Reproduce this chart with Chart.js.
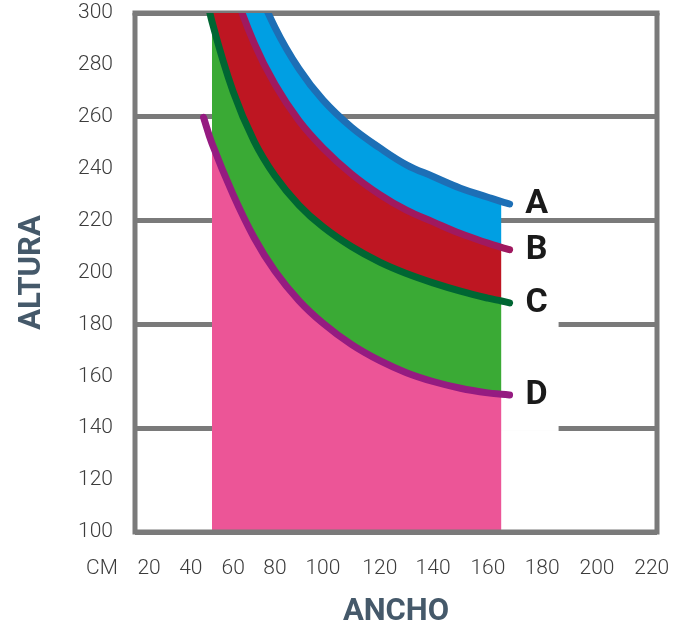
<!DOCTYPE html>
<html>
<head>
<meta charset="utf-8">
<script src="https://cdn.jsdelivr.net/npm/chart.js@4.4.1/dist/chart.umd.min.js"></script>
<style>
  html, body { margin: 0; padding: 0; background: #fff; }
  #wrap { width: 683px; height: 632px; position: relative; }
</style>
</head>
<body>
<div id="wrap"><canvas id="sizeChart"></canvas></div>
<script>
    // ancho (cm) where the curves were read
    var widths = [46, 50, 60, 70, 80, 90, 100, 110, 120, 130, 140, 150, 160, 165, 168];
    // altura (cm) of each curve at those widths (above 300 = off the top of the chart)
    var curveA = [404, 381, 340.5, 313.5, 294.5, 278.5, 266.5, 256, 248, 241.5, 237, 232.5, 229, 227.3, 226.4];
    var curveB = [355.5, 339.5, 310, 288.5, 272.5, 258.5, 248, 238, 230, 224, 219.5, 215, 211.3, 209.7, 208.8];
    var curveC = [312.5, 296.7, 269.7, 250.7, 237.3, 226, 217.6, 210, 204, 199.6, 196, 192.8, 190.1, 189, 188.3];
    var curveD = [259.8, 249.7, 230, 213.5, 200.6, 189.2, 180.5, 172.3, 166, 161.4, 158, 155.4, 153.6, 153.1, 152.8];
    var curveNames = ['A', 'B', 'C', 'D'];

    var xTickValues = [20, 40, 60, 80, 100, 120, 140, 160, 180, 200, 220];
    var xUnitLabel = 'CM';
    var yMin = 100;
    var yMax = 300;
    var yStep = 20;

    // the printed x axis is not evenly spaced: value -> fraction of plot width
    var xAxisWarp = [[13.3, 0], [20, 0.027], [40, 0.107], [60, 0.188], [80, 0.268], [100, 0.360],
                     [120, 0.469], [140, 0.571], [160, 0.676], [180, 0.780], [200, 0.885], [220, 0.990], [221.8, 1]];

    var frameColor = '#7a7a7a';
    var lineColors = ['#1d6fb6', '#a0195f', '#006633', '#951b81'];
    var bandColors = ['#009fe3', '#be1622', '#3aaa35', '#ec5597'];

    class WarpScale extends Chart.LinearScale {
        getPixelForValue(value) {
            if (value === null || value === undefined) return NaN;
            var i = 1;
            while (i < xAxisWarp.length - 1 && value > xAxisWarp[i][0]) i++;
            var a = xAxisWarp[i - 1], b = xAxisWarp[i];
            var f = a[1] + (value - a[0]) / (b[0] - a[0]) * (b[1] - a[1]);
            return this.getPixelForDecimal(f);
        }
        getValueForPixel(pixel) {
            var f = this.getDecimalForPixel(pixel);
            var i = 1;
            while (i < xAxisWarp.length - 1 && f > xAxisWarp[i][1]) i++;
            var a = xAxisWarp[i - 1], b = xAxisWarp[i];
            return a[0] + (f - a[1]) / (b[1] - a[1]) * (b[0] - a[0]);
        }
    }
    WarpScale.id = 'warp';
    WarpScale.defaults = Chart.LinearScale.defaults;
    Chart.register(WarpScale);

    function toPoints(xs, ys) {
        return xs.map(function (x, i) { return { x: x, y: ys[i] }; });
    }

    var curves = [curveA, curveB, curveC, curveD];
    var datasets = [];

    // the four curves (drawn on top)
    curves.forEach(function (c, i) {
        datasets.push({
            label: curveNames[i],
            data: toPoints(widths, c),
            borderColor: lineColors[i],
            borderWidth: 7,
            borderCapStyle: 'round',
            pointRadius: 0,
            fill: false,
            tension: 0.4
        });
    });

    // coloured bands, only between 50 and 165 cm
    var bandX = widths.slice(1, -1);
    var bandFill = ['start', 4, 5, 6];
    [curveD, curveC, curveB, curveA].forEach(function (c, i) {
        datasets.push({
            label: 'band ' + curveNames[3 - i],
            data: toPoints(bandX, c.slice(1, -1)),
            borderWidth: 0,
            pointRadius: 0,
            backgroundColor: bandColors[3 - i],
            fill: bandFill[i],
            tension: 0.4
        });
    });

    function lastPoint(chart, index) {
        var meta = chart.getDatasetMeta(index);
        return meta.data[meta.data.length - 1];
    }

    var framePlugin = {
        id: 'frame',
        beforeDatasetsDraw: function (chart) {
            var a = chart.chartArea;
            var ctx = chart.ctx;
            ctx.save();
            ctx.strokeStyle = frameColor;
            ctx.lineWidth = 5;
            ctx.beginPath();
            ctx.moveTo(a.left - 2.5, a.top);
            ctx.lineTo(a.right + 2.5, a.top);
            ctx.stroke();

            // white patch behind the letters (hides the grid there)
            var bandMeta = chart.getDatasetMeta(4);
            var bandEnd = bandMeta.data[bandMeta.data.length - 1].x;
            var b = lastPoint(chart, 1);
            var d = lastPoint(chart, 3);
            ctx.fillStyle = '#ffffff';
            ctx.fillRect(bandEnd - 2, b.y - 20, b.x + 51 - bandEnd, d.y + 36 - (b.y - 20));
            ctx.restore();
        },
        afterDatasetsDraw: function (chart) {
            var a = chart.chartArea;
            var ctx = chart.ctx;
            ctx.save();
            ctx.strokeStyle = frameColor;
            ctx.lineWidth = 5;
            ctx.beginPath();
            ctx.moveTo(a.left, a.top);
            ctx.lineTo(a.left, a.bottom);
            ctx.lineTo(a.right, a.bottom);
            ctx.lineTo(a.right, a.top);
            ctx.stroke();

            ctx.fillStyle = '#1a1a1a';
            ctx.font = 'bold 34px Roboto';
            ctx.textAlign = 'center';
            ctx.textBaseline = 'middle';
            for (var i = 0; i < 4; i++) {
                var p = lastPoint(chart, i);
                ctx.fillText(curveNames[i], p.x + 27, p.y + 1);
            }

            // unit label left of the first x tick
            var items = chart.scales.x.getLabelItems();
            if (items.length) {
                var o = items[0].options;
                ctx.font = '300 21px Roboto';
                ctx.fillStyle = '#3c3c3c';
                ctx.textAlign = 'center';
                ctx.textBaseline = o.textBaseline || 'middle';
                ctx.fillText(xUnitLabel, a.left - 33, o.translation[1] + (items[0].textOffset || 0));
            }
            ctx.restore();
        }
    };

    var ctx = document.getElementById('sizeChart').getContext('2d');
    var sizeChart = new Chart(ctx, {
        type: 'line',
        data: { datasets: datasets },
        options: {
            responsive: true,
            maintainAspectRatio: false,
            animation: false,
            layout: { padding: { top: 13, right: 26, left: 0, bottom: 0 } },
            scales: {
                x: {
                    type: 'warp',
                    min: 13.3,
                    max: 221.8,
                    afterBuildTicks: function (scale) {
                        scale.ticks = xTickValues.map(function (v) { return { value: v }; });
                    },
                    afterFit: function (scale) {
                        scale.height = 100;
                        scale.paddingLeft = 0;
                        scale.paddingRight = 0;
                    },
                    grid: { display: false },
                    border: { display: false },
                    ticks: {
                        autoSkip: false,
                        maxRotation: 0,
                        padding: 16,
                        color: '#3c3c3c',
                        font: { family: 'Roboto', size: 21, weight: '300' },
                        callback: function (v) { return String(v); }
                    },
                    title: {
                        display: true,
                        text: 'ANCHO',
                        color: '#45596a',
                        font: { family: 'Roboto', size: 31, weight: 'bold' },
                        padding: { top: 0, bottom: 1 }
                    }
                },
                y: {
                    min: yMin,
                    max: yMax,
                    afterFit: function (scale) {
                        scale.width = 135;
                        scale.paddingTop = 0;
                        scale.paddingBottom = 0;
                    },
                    grid: {
                        drawTicks: false,
                        lineWidth: 5,
                        color: function (c) {
                            return (c.tick && (c.tick.value - yMin) % 40 === 0) ? frameColor : 'rgba(0,0,0,0)';
                        }
                    },
                    border: { display: false },
                    ticks: {
                        stepSize: yStep,
                        padding: 22,
                        color: '#3c3c3c',
                        font: { family: 'Roboto', size: 21, weight: '300' }
                    },
                    title: {
                        display: true,
                        text: 'ALTURA',
                        color: '#45596a',
                        font: { family: 'Roboto', size: 31, weight: 'bold' },
                        padding: { top: 14, bottom: 0 }
                    }
                }
            },
            plugins: {
                legend: { display: false },
                tooltip: { enabled: false }
            }
        },
        plugins: [framePlugin]
    });
</script>
</body>
</html>
